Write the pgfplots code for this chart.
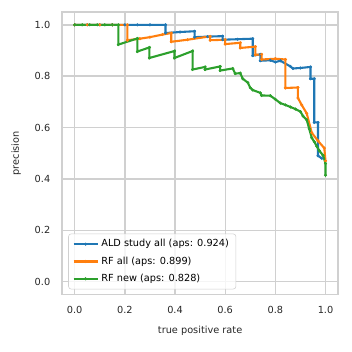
\documentclass[border=0pt]{standalone}
\usepackage{pgfplots}
\pgfplotsset{compat=1.18}
\usepackage{fontspec}
\setmainfont{DejaVu Sans}
\definecolor{c1}{HTML}{1F77B4}
\definecolor{c2}{HTML}{FF7F0E}
\definecolor{c3}{HTML}{2CA02C}
\definecolor{gridc}{HTML}{D0D0D0}
\tikzset{pr/.style={line width=1.5pt, mark=*, mark size=0.9pt, mark options={line width=0.4pt, fill=#1, draw=#1}, draw=#1}}
\begin{document}
\begin{tikzpicture}
\begin{axis}[
  scale only axis,
  width=198pt, height=202.7pt,
  xmin=-0.05, xmax=1.05, ymin=-0.05, ymax=1.05,
  xtick={0,0.2,0.4,0.6,0.8,1.0}, ytick={0,0.2,0.4,0.6,0.8,1.0},
  xticklabels={0.0,0.2,0.4,0.6,0.8,1.0}, yticklabels={0.0,0.2,0.4,0.6,0.8,1.0},
  /pgf/number format/assume math mode=true,
  tick style={draw=none},
  major grid style={draw=gridc, line width=1pt},
  grid=major,
  axis line style={draw=gridc, line width=1pt},
  ticklabel style={font=\fontsize{7}{8.4}\selectfont, text=black!85},
  xticklabel style={yshift=-5pt},
  yticklabel style={xshift=-5pt},
  xlabel={true positive rate}, ylabel={precision},
  label style={font=\fontsize{7}{8.4}\selectfont, text=black!85},
  xlabel style={yshift=-2pt},
  ylabel style={yshift=3pt},
  legend style={at={(0.022,0.018)}, anchor=south west, draw=gridc, rounded corners=2pt,
     fill=white, fill opacity=0.8, text opacity=1, font=\fontsize{7}{8.4}\selectfont,
     row sep=1.6pt, inner xsep=3pt, inner ysep=2pt, cells={anchor=west}},
  legend cell align=left,
]
\addplot[pr=c1] coordinates {
(0,1) (0.05,1) (0.1,1) (0.15,1) (0.2,1) (0.25,1) (0.3,1) (0.362,1)
(0.362,0.968) (0.42,0.972) (0.478,0.975)
(0.478,0.952) (0.53,0.954) (0.59,0.956)
(0.59,0.942) (0.65,0.944) (0.71,0.946)
(0.71,0.88) (0.74,0.885) (0.74,0.86) (0.78,0.862) (0.8,0.855) (0.82,0.86)
(0.86,0.838) (0.87,0.83) (0.9,0.832) (0.94,0.836)
(0.94,0.79) (0.955,0.79) (0.955,0.62) (0.97,0.62) (0.97,0.49) (0.985,0.48)
};
\addlegendentry{ALD study all (aps: 0.924)}
\addplot[pr=c2] coordinates {
(0,1) (0.05,1) (0.1,1) (0.15,1) (0.21,1)
(0.21,0.94) (0.26,0.946) (0.3,0.952) (0.35,0.962) (0.385,0.968)
(0.385,0.934) (0.45,0.942) (0.54,0.955)
(0.54,0.94) (0.6,0.942) (0.6,0.925) (0.66,0.93) (0.66,0.91) (0.72,0.915)
(0.72,0.883) (0.745,0.885) (0.745,0.865) (0.8,0.868) (0.84,0.865)
(0.84,0.754) (0.89,0.756) (0.89,0.715) (0.905,0.688) (0.925,0.655)
(0.945,0.58) (0.97,0.548) (0.995,0.52) (1.0,0.47)
};
\addlegendentry{RF all (aps: 0.899)}
\addplot[pr=c3] coordinates {
(0,1) (0.03,1) (0.06,1) (0.09,1) (0.12,1) (0.15,1) (0.174,1)
(0.174,0.923) (0.25,0.947) (0.25,0.896) (0.298,0.912) (0.298,0.871)
(0.398,0.898) (0.398,0.871) (0.47,0.898) (0.47,0.826)
(0.52,0.836) (0.52,0.826) (0.58,0.838) (0.58,0.822) (0.63,0.83)
(0.64,0.81) (0.66,0.812) (0.67,0.79) (0.69,0.775) (0.7,0.755)
(0.71,0.746) (0.74,0.735) (0.745,0.725) (0.78,0.724) (0.8,0.71)
(0.82,0.695) (0.84,0.688) (0.86,0.68) (0.88,0.672) (0.9,0.662)
(0.91,0.645) (0.925,0.63) (0.935,0.595) (0.945,0.56) (0.955,0.545)
(0.965,0.527) (0.975,0.51) (0.99,0.492) (1.0,0.46) (1.0,0.414)
};
\addlegendentry{RF new (aps: 0.828)}
\end{axis}
\pgfresetboundingbox
\path (current axis.south west) ++(-44.6pt,-41pt) coordinate (bl);
\path (current axis.north east) ++(10pt,8.6pt) coordinate (tr);
\path[use as bounding box] (bl) rectangle (tr);
\end{tikzpicture}
\end{document}
